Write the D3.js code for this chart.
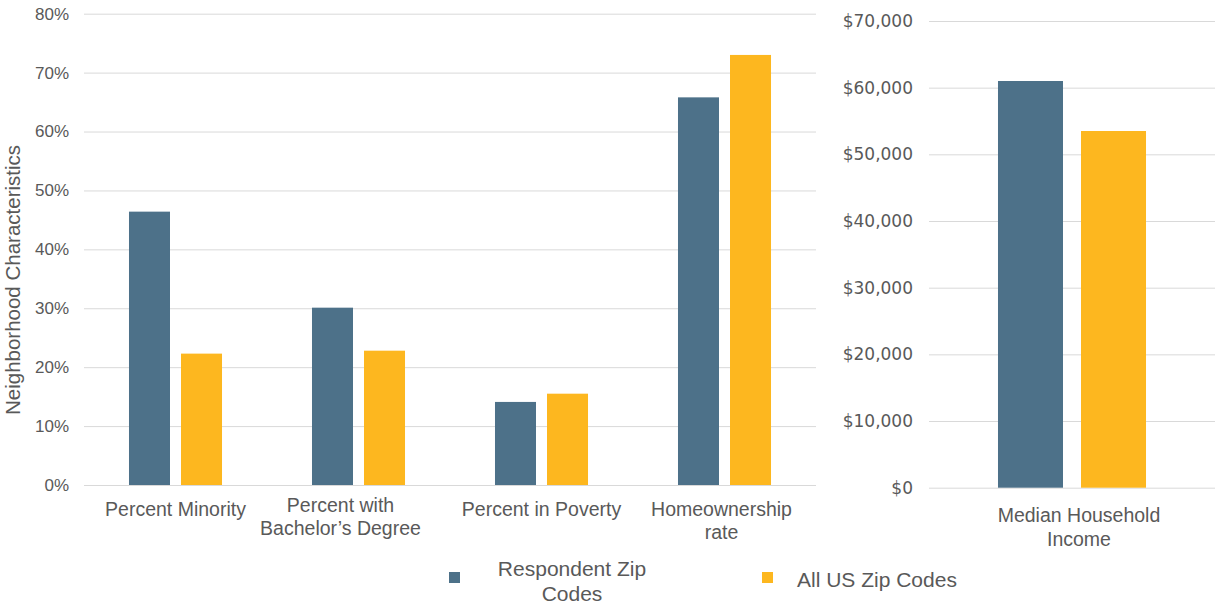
<!DOCTYPE html>
<html>
<head>
<meta charset="utf-8">
<script src="https://cdn.jsdelivr.net/npm/d3@7"></script>
<style>
  html, body { margin: 0; padding: 0; background: #ffffff; }
  svg { display: block; }
</style>
</head>
<body>
<svg id="chart" width="1215" height="604"></svg>
<script>
// Neighborhood characteristics by category (shares) and median income
const categories = [
  ["Percent Minority"],
  ["Percent with", "Bachelor\u2019s Degree"],
  ["Percent in Poverty"],
  ["Homeownership", "rate"]
];
const categoryKeys = ["minority", "bachelor", "poverty", "homeownership"];
const seriesNames = ["Respondent Zip Codes", "All US Zip Codes"];
const respondentShares = [0.464, 0.301, 0.141, 0.658];
const allUsShares = [0.223, 0.228, 0.155, 0.730];

const incomeCategory = ["Median Household", "Income"];
const respondentIncome = [61000];
const allUsIncome = [53500];

const percentTicks = [0, 0.1, 0.2, 0.3, 0.4, 0.5, 0.6, 0.7, 0.8];
const dollarTicks = [0, 10000, 20000, 30000, 40000, 50000, 60000, 70000];

const colors = { "Respondent Zip Codes": "#4d7189", "All US Zip Codes": "#fdb71f" };
const textColor = "#595959";
const gridColor = "#d9d9d9";
const labelFont = "'Liberation Sans', Arial, sans-serif";

const svg = d3.select("#chart");

// ---------- left panel: percentages ----------
const xL = d3.scaleBand().domain(categoryKeys).range([84, 816]).padding(0);
const xLs = d3.scaleBand().domain(seriesNames).range([0, xL.bandwidth()])
  .paddingInner(0.2115).paddingOuter(0.865);
const yL = d3.scaleLinear().domain([0, 0.8]).range([485, 13.7]);

const leftAxis = svg.append("g")
  .attr("transform", "translate(84,0)")
  .call(d3.axisLeft(yL).tickValues(percentTicks).tickFormat(d3.format(".0%"))
    .tickSize(-(816 - 84)).tickPadding(15));
leftAxis.select(".domain").remove();
leftAxis.selectAll(".tick line").attr("stroke", gridColor).attr("stroke-width", 1);
leftAxis.selectAll(".tick text")
  .attr("fill", textColor)
  .style("font-family", labelFont)
  .style("font-size", "17px");

const leftRows = categoryKeys.map((k, i) => ({
  key: k,
  values: [
    { series: seriesNames[0], value: respondentShares[i] },
    { series: seriesNames[1], value: allUsShares[i] }
  ]
}));

svg.append("g").selectAll("g")
  .data(leftRows)
  .join("g")
  .attr("transform", d => `translate(${xL(d.key)},0)`)
  .selectAll("rect")
  .data(d => d.values)
  .join("rect")
  .attr("x", d => xLs(d.series))
  .attr("width", xLs.bandwidth())
  .attr("y", d => yL(d.value))
  .attr("height", d => yL(0) - yL(d.value))
  .attr("fill", d => colors[d.series]);

// category labels (the wrapped degree label sits a little left of its band centre)
const labelShift = { bachelor: -18, homeownership: -3 };
svg.append("g").selectAll("text")
  .data(categoryKeys)
  .join("text")
  .attr("y", d => d === "bachelor" ? 512 : 516)
  .attr("text-anchor", "middle")
  .attr("fill", textColor)
  .style("font-family", labelFont)
  .style("font-size", "19.5px")
  .each(function(d, i) {
    const t = d3.select(this);
    const x = xL(d) + xL.bandwidth() / 2 + (labelShift[d] || 0);
    categories[i].forEach((line, j) => {
      t.append("tspan").attr("x", x).attr("dy", j === 0 ? 0 : 23).text(line);
    });
  });

// y-axis title
svg.append("text")
  .attr("transform", "translate(20,280) rotate(-90)")
  .attr("text-anchor", "middle")
  .attr("fill", textColor)
  .style("font-family", labelFont)
  .style("font-size", "20.5px")
  .text("Neighborhood Characteristics");

// ---------- right panel: median household income ----------
const xR = d3.scaleBand().domain(["income"]).range([929, 1215]).padding(0);
const xRs = d3.scaleBand().domain(seriesNames).range([0, xR.bandwidth()])
  .paddingInner(0.217).paddingOuter(0.831);
const yR = d3.scaleLinear().domain([0, 70000]).range([487.7, 21]);

const rightAxis = svg.append("g")
  .attr("transform", "translate(929,0)")
  .call(d3.axisLeft(yR).tickValues(dollarTicks).tickFormat(d => "$" + d3.format(",")(d))
    .tickSize(-(1215 - 929)).tickPadding(16));
rightAxis.select(".domain").remove();
rightAxis.selectAll(".tick line").attr("stroke", gridColor).attr("stroke-width", 1);
rightAxis.selectAll(".tick text")
  .attr("fill", textColor)
  .style("font-family", "'DejaVu Sans', Verdana, sans-serif")
  .style("font-size", "17px");

const rightValues = [
  { series: seriesNames[0], value: respondentIncome[0] },
  { series: seriesNames[1], value: allUsIncome[0] }
];
svg.append("g")
  .attr("transform", `translate(${xR("income")},0)`)
  .selectAll("rect")
  .data(rightValues)
  .join("rect")
  .attr("x", d => xRs(d.series))
  .attr("width", xRs.bandwidth())
  .attr("y", d => yR(d.value))
  .attr("height", d => yR(0) - yR(d.value))
  .attr("fill", d => colors[d.series]);

const incomeLabel = svg.append("text")
  .attr("y", 521.5)
  .attr("text-anchor", "middle")
  .attr("fill", textColor)
  .style("font-family", labelFont)
  .style("font-size", "19.5px");
incomeCategory.forEach((line, j) => {
  incomeLabel.append("tspan")
    .attr("x", xR("income") + xR.bandwidth() / 2 + 7)
    .attr("dy", j === 0 ? 0 : 24)
    .text(line);
});

// ---------- legend ----------
const legendItems = [
  { series: seriesNames[0], lines: ["Respondent Zip", "Codes"], sx: 449, tx: 572, ty: 576 },
  { series: seriesNames[1], lines: ["All US Zip Codes"], sx: 762, tx: 797, ty: 587 }
];
const legend = svg.append("g");
legend.selectAll("rect")
  .data(legendItems)
  .join("rect")
  .attr("x", d => d.sx)
  .attr("y", 572)
  .attr("width", 11)
  .attr("height", 11)
  .attr("fill", d => colors[d.series]);
legend.selectAll("text")
  .data(legendItems)
  .join("text")
  .attr("y", d => d.ty)
  .attr("text-anchor", d => d.lines.length > 1 ? "middle" : "start")
  .attr("fill", textColor)
  .style("font-family", labelFont)
  .style("font-size", "21px")
  .each(function(d) {
    const t = d3.select(this);
    d.lines.forEach((line, j) => {
      t.append("tspan").attr("x", d.tx).attr("dy", j === 0 ? 0 : 25).text(line);
    });
  });
</script>
</body>
</html>
